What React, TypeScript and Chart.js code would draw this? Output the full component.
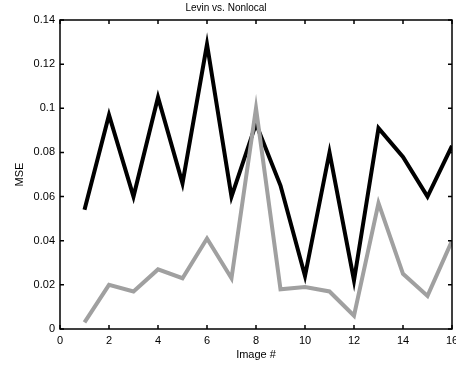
import React, { useEffect, useRef } from "react";
import { Chart, registerables } from "chart.js";

Chart.register(...registerables);

const imageNumbers = [1, 2, 3, 4, 5, 6, 7, 8, 9, 10, 11, 12, 13, 14, 15, 16];
const levinMSE = [0.054, 0.097, 0.060, 0.105, 0.066, 0.129, 0.060, 0.093, 0.065, 0.024, 0.080, 0.022, 0.091, 0.078, 0.060, 0.083];
const nonlocalMSE = [0.003, 0.020, 0.017, 0.027, 0.023, 0.041, 0.023, 0.100, 0.018, 0.019, 0.017, 0.006, 0.057, 0.025, 0.015, 0.040];
const xTickStep = 2;
const yTickStep = 0.02;

const FONT = "'Liberation Sans', Arial, Helvetica, sans-serif";

const frameTicksPlugin = {
  id: "frameTicks",
  afterDraw(chart: any) {
    const ctx = chart.ctx;
    const a = chart.chartArea;
    const xs = chart.scales.x;
    const ys = chart.scales.y;
    const L = 4;
    ctx.save();
    ctx.strokeStyle = "#000000";
    ctx.lineWidth = 1.5;
    ctx.strokeRect(a.left, a.top, a.right - a.left, a.bottom - a.top);
    ctx.beginPath();
    for (const t of xs.ticks) {
      const px = xs.getPixelForValue(t.value);
      ctx.moveTo(px, a.bottom);
      ctx.lineTo(px, a.bottom - L);
      ctx.moveTo(px, a.top);
      ctx.lineTo(px, a.top + L);
    }
    for (const t of ys.ticks) {
      const py = ys.getPixelForValue(t.value);
      ctx.moveTo(a.left, py);
      ctx.lineTo(a.left + L, py);
      ctx.moveTo(a.right, py);
      ctx.lineTo(a.right - L, py);
    }
    ctx.stroke();
    ctx.restore();
  },
};

export default function App() {
  const ref = useRef<HTMLCanvasElement | null>(null);
  useEffect(() => {
    document.body.style.margin = "0";
    const canvas = ref.current!;
    const chart = new Chart(canvas, {
      type: "line",
      data: {
        datasets: [
          {
            label: "Nonlocal",
            data: imageNumbers.map((x, i) => ({ x, y: nonlocalMSE[i] })),
            borderColor: "#a0a0a0",
            borderWidth: 4,
            pointRadius: 0,
            fill: false,
            tension: 0,
            borderJoinStyle: "miter",
            clip: 0,
          },
          {
            label: "Levin",
            data: imageNumbers.map((x, i) => ({ x, y: levinMSE[i] })),
            borderColor: "#000000",
            borderWidth: 4,
            pointRadius: 0,
            fill: false,
            tension: 0,
            borderJoinStyle: "miter",
            clip: 0,
          },
        ],
      },
      options: {
        responsive: false,
        animation: false,
        layout: { padding: { left: 0, right: 4, top: 0, bottom: 0 } },
        plugins: {
          legend: { display: false },
          tooltip: { enabled: false },
          title: {
            display: true,
            text: "Levin vs. Nonlocal",
            color: "#000",
            font: { family: FONT, size: 10, weight: "normal" },
            padding: { top: 2, bottom: 6 },
          },
        },
        scales: {
          x: {
            type: "linear",
            min: 0,
            max: 16,
            grid: { display: false, drawTicks: false },
            border: { display: false },
            ticks: {
              stepSize: xTickStep,
              color: "#000",
              font: { family: FONT, size: 11 },
              padding: 5,
              maxRotation: 0,
            },
            title: {
              display: true,
              text: "Image #",
              color: "#000",
              font: { family: FONT, size: 11 },
              padding: { top: 0, bottom: 4 },
            },
            afterFit(scale: any) {
              scale.height = 37;
              scale.paddingRight = 0;
              scale.paddingLeft = 0;
            },
          },
          y: {
            type: "linear",
            min: 0,
            max: 0.14,
            grid: { display: false, drawTicks: false },
            border: { display: false },
            ticks: {
              stepSize: yTickStep,
              color: "#000",
              font: { family: FONT, size: 11 },
              padding: 5,
              callback: (v: any) => String(parseFloat(Number(v).toFixed(4))),
            },
            title: {
              display: true,
              text: "MSE",
              color: "#000",
              font: { family: FONT, size: 11 },
              padding: { top: 13, bottom: 0 },
            },
            afterFit(scale: any) {
              scale.width = 60;
            },
          },
        },
      },
      plugins: [frameTicksPlugin],
    });
    return () => chart.destroy();
  }, []);
  return <canvas ref={ref} width={456} height={366} />;
}
